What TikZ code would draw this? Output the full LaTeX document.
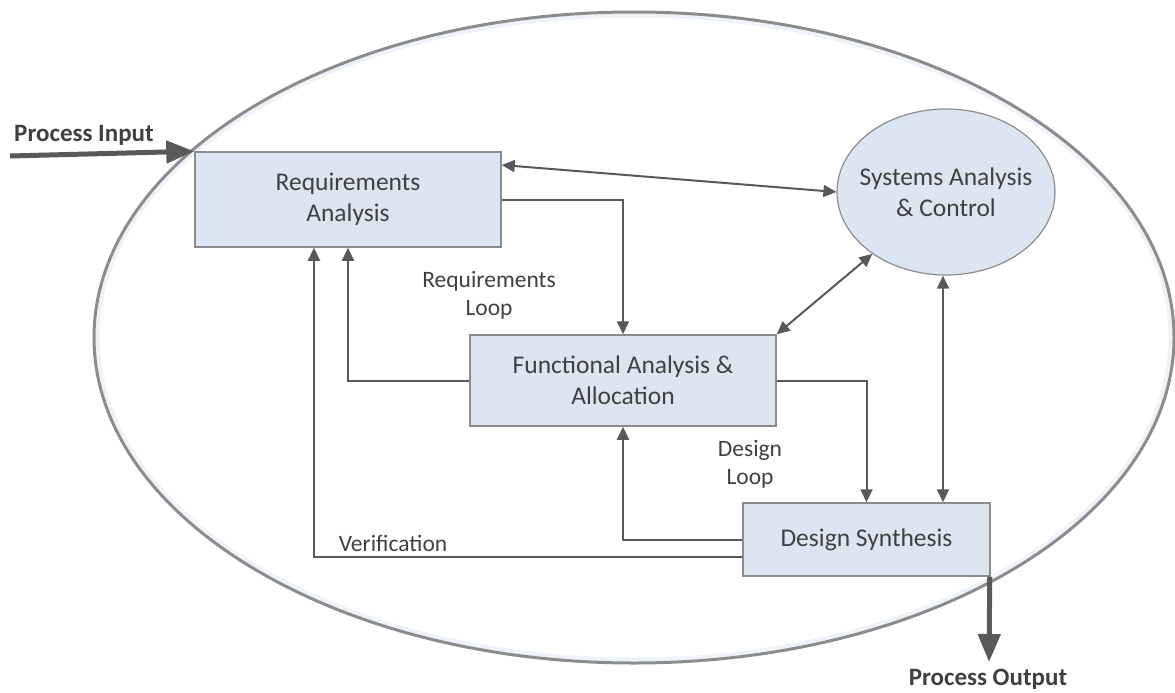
\documentclass[tikz,border=0pt]{standalone}
\usepackage{fontspec}
\setmainfont{Carlito}
\usetikzlibrary{arrows.meta,shapes.geometric,calc}
\definecolor{txt}{HTML}{404040}
\definecolor{conncol}{HTML}{595959}
\definecolor{edge}{HTML}{8C8C8C}
\definecolor{boxfill}{HTML}{DCE6F2}
\definecolor{glow}{HTML}{EEF3FA}
\tikzset{
  procbox/.style={draw=edge, line width=1.5pt, fill=boxfill, rectangle, inner sep=0pt, align=center, text=txt, font=\fontsize{25.5}{31}\selectfont},
  ctlell/.style={draw=edge, line width=1.2pt, fill=boxfill, ellipse, inner sep=0pt},
  boxtext/.style={text=txt, align=center, inner sep=0pt, font=\fontsize{25.5}{31}\selectfont},
  conn/.style={draw=conncol, line width=2pt, -{Triangle[length=13pt,width=12pt]}},
  dconn/.style={draw=conncol, line width=2pt, {Triangle[length=13pt,width=12pt]}-{Triangle[length=13pt,width=12pt]}},
  bigarrow/.style={draw=conncol, line width=5pt, -{Triangle[length=28pt,width=22pt]}},
  lbl/.style={text=txt, align=center, inner sep=0pt, font=\fontsize{23.5}{28}\selectfont},
  biglbl/.style={text=txt, inner sep=0pt, font=\fontsize{25}{28}\selectfont\bfseries}
}
\begin{document}
\begin{tikzpicture}[x=1pt,y=-1pt]
\useasboundingbox (0,0) rectangle (1175,693);
% outer process ellipse
\draw[glow, line width=4pt] (634,337.5) ellipse [x radius=536.5pt, y radius=322pt];
\draw[edge, line width=3pt] (634,337.5) ellipse [x radius=540pt, y radius=325.5pt];

% nodes
\node[procbox, minimum width=306pt, minimum height=95pt] (ra) at (348,199.5) {Requirements\\Analysis};
\node[procbox, minimum width=306pt, minimum height=91pt] (fa) at (623,380.5) {Functional Analysis \&\\Allocation};
\node[procbox, minimum width=247pt, minimum height=73pt] (ds) at (866.5,539.5) {Design Synthesis};
\node[ctlell, minimum width=218pt, minimum height=166pt] (sac) at (946,192) {};
\node[boxtext] (sactext) at (sac.center) {Systems Analysis\\\& Control};

% labels
\node[lbl] (rl) at (489,295) {Requirements\\Loop};
\node[lbl] (dl) at (750,464) {Design\\Loop};
\node[lbl] (vl) at (393,543) {Verification};
\node[biglbl] (pil) at (84,135) {Process Input};
\node[biglbl] (pol) at (988,679) {Process Output};

% connectors
\draw[dconn] ([yshift=34.5pt]ra.east) -- (sac.west);
\draw[conn] (ra.east) -| (fa.north);
\draw[conn] (fa.west) -| (ra.south);
\draw[conn] (fa.east) -| (ds.north);
\draw[conn] (ds.west) -| (fa.south);
\draw[conn] ([yshift=-17.5pt]ds.west) -| ([xshift=-34pt]ra.south);
\draw[dconn] (fa.north east) -- (sac);
\draw[dconn] ([xshift=-3pt]sac.south) -- ([xshift=-3pt]sac.south |- ds.north);

% process input / output
\coordinate (pin) at (10,156);
\draw[bigarrow] (pin) -- (ra.north west);
\coordinate (pout) at (989,662);
\draw[bigarrow] ([xshift=-1pt]ds.south east) -- (pout);
\end{tikzpicture}
\end{document}
